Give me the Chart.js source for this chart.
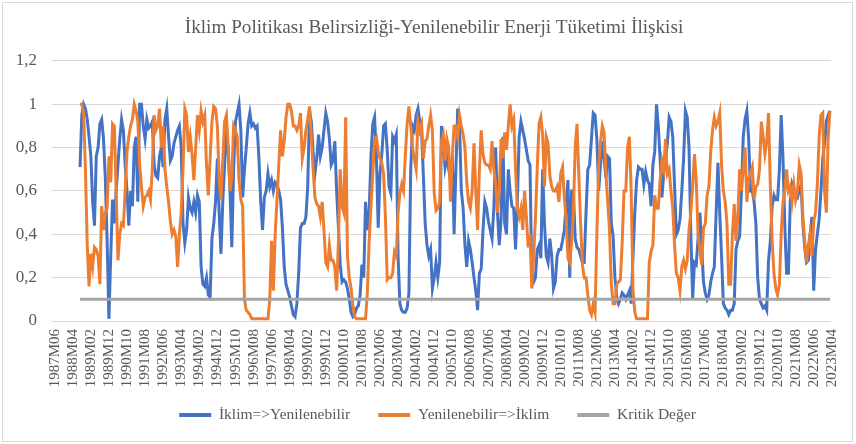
<!DOCTYPE html>
<html>
<head>
<meta charset="utf-8">
<script src="https://cdn.jsdelivr.net/npm/chart.js@4/dist/chart.umd.min.js"></script>
<style>
html,body{margin:0;padding:0;background:#ffffff;}
#wrap{position:relative;width:856px;height:444px;}
canvas{display:block;}
</style>
</head>
<body>
<div id="wrap"><canvas id="c" width="856" height="444"></canvas></div>
<script>
// ---- categories: monthly, 1987M06 .. 2023M04 ----
const firstYear = 1987, firstMonth = 6, monthCount = 431;
const tickEvery = 10;
const seriesStart = 15; // first month with values (index into categories)

// ---- series values (from seriesStart to the last month) ----
const iklimToYenilenebilir = [
.71,.95,1,.98,.93,.85,.76,.55,.44,.76,.8,.91,.93,.84,.66,.37,.01,.3,.56,.45,.6,.72,.84,.93,.88,.72,.6,.44,.6,.53,.8,.85,.55,
1,1,.9,.84,.93,.89,.9,.92,.72,.67,.66,.76,.8,.71,.93,.98,.85,.74,.76,.82,.85,.88,.9,.8,.45,.36,.42,.57,.52,.5,.55,.5,.58,.55,.25,.17,.16,.2,.12,.11,.38,.45,.55,.75,.5,.31,.55,.72,.85,.8,.6,.34,.7,.92,
.96,1,.88,.57,.7,.8,.91,.96,.9,.91,.89,.9,.75,.55,.42,.57,.6,.68,.62,.65,.6,.64,.63,.6,.56,.43,.25,.17,.14,.11,.07,.03,.02,.08,.22,.43,.45,.45,.48,.62,.97,.92,.78,.68,.75,.86,.76,.8,.88,.96,.92,.84,.72,.74,
.83,.6,.43,.26,.18,.19,.18,.15,.1,.04,.02,.03,.06,.07,.12,.26,.2,.55,.42,.5,.76,.91,.94,.76,.43,.68,.77,.9,.91,.79,.62,.59,.85,.83,.86,.3,.08,.05,.04,.04,.06,.13,.7,.9,.88,.95,.98,.92,.87,.67,.45,.35,.3,.33,.15,
.2,.27,.2,.27,.9,.82,.71,.76,.7,.65,.76,.4,.7,.98,.9,.6,.52,.35,.25,.37,.33,.27,.2,.14,.05,.22,.24,.42,.55,.52,.46,.42,.38,.52,.8,.5,.35,.47,.85,.45,.4,.7,.6,.53,.52,.33,.55,.85,.92,.88,.84,.79,.74,.72,
.2,.18,.2,.33,.35,.29,.7,.45,.3,.27,.38,.3,.15,.18,.3,.33,.33,.37,.42,.53,.65,.2,.6,.6,.38,.34,.33,.3,.27,.27,.5,.7,.72,.84,.96,.95,.84,.6,.72,.83,.75,.66,.76,.75,.45,.39,.2,.11,.08,.1,.13,.12,.1,.12,
.14,.08,.3,.5,.65,.71,.7,.7,.63,.69,.65,.63,.53,.72,.78,1,.9,.75,.57,.68,.74,.82,.94,.92,.85,.62,.4,.42,.47,.6,.75,.97,.94,.8,.4,.1,.27,.26,.38,.5,.35,.18,.13,.1,.12,.18,.22,.25,.5,.73,.5,.3,.08,.06,.05,
.03,.05,.05,.08,.33,.37,.39,.6,.85,.93,.97,.84,.6,.6,.55,.45,.2,.1,.08,.06,.07,.05,.28,.37,.53,.58,.56,.56,.7,.95,.75,.44,.22,.22,.55,.63,.6,.58,.57,.6,.63,.45,.34,.27,.28,.4,.48,.14,.33,.4,.47,.6,.75,.82,.92,.95,.97
];
const yenilenebilirToIklim = [
1,1,.96,.7,.35,.16,.31,.25,.34,.33,.3,.17,.53,.42,.5,.52,.76,.64,.91,.9,.6,.28,.4,.45,.44,.6,.78,.85,.9,.93,1,.97,.92,
.72,.62,.53,.57,.58,.6,.56,.7,.95,.88,.9,.98,.8,.9,.7,.62,.55,.46,.4,.42,.39,.25,.4,.5,.7,.98,.95,.78,.85,.77,.65,.8,.95,.88,.97,.92,.95,.72,.58,.75,.92,.99,.98,.9,.65,.56,.74,.92,.95,.8,.6,.66,.9,.88,
.85,.65,.56,.53,.1,.05,.04,.03,.01,.01,.01,.01,.01,.01,.01,.01,.01,.01,.1,.37,.14,.4,.56,.72,.88,.76,.83,.94,1,1,.97,.9,.9,.88,.9,.96,.75,.8,.88,.93,.99,.85,.7,.57,.54,.53,.48,.55,.42,.27,.25,.35,.28,.28,
.25,.14,.37,.7,.53,.5,.94,.3,.2,.15,.07,.02,.01,.01,.01,.01,.01,.01,.13,.37,.53,.68,.84,.85,.78,.75,.73,.68,.48,.19,.2,.2,.22,.32,.3,.5,.59,.63,.6,.76,.91,.99,.9,.8,.75,.7,.92,.88,.91,.75,.83,.84,.9,.95,.88,
.59,.51,.52,.55,.83,.86,.74,.84,.8,.55,.76,.9,.9,.85,.95,.9,.86,.8,.64,.55,.52,.6,.82,.6,.42,.7,.88,.77,.73,.72,.72,.7,.83,.7,.63,.5,.6,.84,.75,.87,.79,.9,1,.9,.93,.7,.52,.48,.52,.42,.6,.48,.34,.4,
.15,.3,.47,.7,.91,.94,.86,.62,.85,.82,.67,.62,.6,.6,.62,.55,.68,.71,.57,.47,.29,.27,.36,.5,.8,.91,.68,.45,.26,.2,.2,.12,.05,.03,.08,.04,.4,.72,.82,.9,.87,.68,.55,.42,.17,.08,.08,.17,.18,.19,.36,.6,.6,.8,
.85,.6,.14,.04,.01,.01,.01,.01,.01,.01,.01,.27,.32,.35,.58,.52,.52,.65,.74,.7,.84,.68,.7,.6,.52,.35,.22,.2,.14,.25,.28,.24,.28,.42,.5,.62,.77,.65,.4,.33,.26,.43,.45,.58,.62,.78,.88,.94,.9,.92,.96,.72,.6,.55,.45,
.17,.17,.4,.54,.37,.48,.7,.6,.7,.8,.55,.65,.68,.71,.56,.62,.63,.7,.92,.85,.77,.83,.96,.62,.37,.22,.15,.12,.17,.4,.55,.6,.7,.6,.62,.55,.63,.56,.6,.72,.68,.48,.37,.27,.35,.4,.3,.46,.5,.63,.85,.95,.96,.6,.5,.85,.97
];
const kritikDeger = 0.1;

const yTicks = {min: 0, max: 1.2, step: 0.2};
const titleText = 'İklim Politikası Belirsizliği-Yenilenebilir Enerji Tüketimi İlişkisi';
const seriesNames = ['İklim=>Yenilenebilir', 'Yenilenebilir=>İklim', 'Kritik Değer'];

// ---- build table for the library ----
const categories = [];
for (let i = 0; i < monthCount; i++) {
  const m0 = firstMonth - 1 + i;
  const y = firstYear + Math.floor(m0 / 12);
  const m = (m0 % 12) + 1;
  categories.push(y + 'M' + (m < 10 ? '0' + m : '' + m));
}
function placeSeries(values) {
  const out = new Array(monthCount).fill(null);
  for (let i = 0; i < values.length && seriesStart + i < monthCount; i++) out[seriesStart + i] = values[i];
  return out;
}
const kritikData = new Array(monthCount).fill(null).map((v, i) => i >= seriesStart ? kritikDeger : null);

const FONT = "'Liberation Serif', 'Times New Roman', serif";
const TXT = '#595959';
const LEGEND_FONT = 15.5, LEGEND_PAD = 28;

const frame = {
  id: 'frame',
  beforeDraw(chart) {
    const c = chart.ctx;
    c.save();
    c.fillStyle = '#ffffff';
    c.fillRect(0, 0, chart.width, chart.height);
    c.strokeStyle = '#D9D9D9';
    c.lineWidth = 1;
    c.strokeRect(2.5, 2.5, 850, 439);
    c.restore();
  },
  afterLayout(chart) {
    const L = chart.legend;
    if (L) {
      const wantTop = 415 - LEGEND_PAD - LEGEND_FONT / 2;
      const dy = wantTop - L.top;
      L.top += dy; L.bottom += dy;
      L.left += 15; L.right += 15;
    }
    const T = chart.titleBlock;
    if (T) { T.left += 11.5; T.right += 11.5; }
  }
};

new Chart(document.getElementById('c'), {
  type: 'line',
  data: {
    labels: categories,
    datasets: [
      {label: seriesNames[0], data: placeSeries(iklimToYenilenebilir), borderColor: '#4472C4', backgroundColor: '#4472C4', borderWidth: 3, pointRadius: 0, tension: 0, order: 3},
      {label: seriesNames[1], data: placeSeries(yenilenebilirToIklim), borderColor: '#ED7D31', backgroundColor: '#ED7D31', borderWidth: 3, pointRadius: 0, tension: 0, order: 2},
      {label: seriesNames[2], data: kritikData, borderColor: '#A5A5A5', backgroundColor: '#A5A5A5', borderWidth: 3, pointRadius: 0, tension: 0, order: 1}
    ]
  },
  options: {
    responsive: false,
    animation: false,
    devicePixelRatio: 1,
    events: [],
    layout: {padding: {left: 0, right: 11, top: 0, bottom: -4.5}},
    plugins: {
      title: {display: true, text: titleText, color: TXT, font: {family: FONT, size: 19.2, weight: 'normal'}, padding: {top: 16, bottom: 21.9}},
      legend: {
        position: 'bottom',
        labels: {
          boxWidth: 32, boxHeight: 4, color: TXT, padding: LEGEND_PAD,
          font: {family: FONT, size: LEGEND_FONT},
          generateLabels: (chart) => Chart.defaults.plugins.legend.labels.generateLabels(chart).map(l => Object.assign(l, {lineWidth: 0})),
          sort: (a, b) => a.datasetIndex - b.datasetIndex
        }
      },
      tooltip: {enabled: false}
    },
    scales: {
      x: {
        type: 'category',
        offset: true,
        grid: {display: false, drawTicks: false},
        border: {display: false},
        ticks: {
          autoSkip: false, maxRotation: 90, minRotation: 90, padding: 8, labelOffset: 2, color: TXT,
          font: {family: FONT, size: 15},
          callback: function (v, i) { return i % tickEvery === 0 ? this.getLabelForValue(v) : null; }
        },
        afterFit: (s) => { s.height = 74; }
      },
      y: {
        min: yTicks.min, max: yTicks.max,
        grid: {color: '#D9D9D9', lineWidth: 1, drawTicks: false},
        border: {display: false},
        ticks: {
          stepSize: yTicks.step, padding: 15, color: TXT,
          font: {family: FONT, size: 17},
          callback: (v) => String(Math.round(v * 10) / 10).replace('.', ',')
        },
        afterFit: (s) => { s.width = 52; }
      }
    }
  },
  plugins: [frame]
});
</script>
</body>
</html>
